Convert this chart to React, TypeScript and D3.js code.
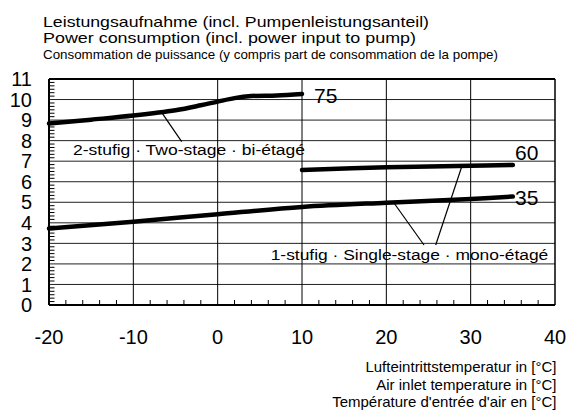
import React from "react";
import * as d3 from "d3";

const xTicks = [-20, -10, 0, 10, 20, 30, 40];
const yTicks = [0, 1, 2, 3, 4, 5, 6, 7, 8, 9, 10, 11];

const curve75X = [-20, -15, -10, -5, -2, 0, 2, 4, 7, 10];
const curve75Y = [8.83, 9.02, 9.22, 9.48, 9.72, 9.9, 10.07, 10.17, 10.2, 10.27];
const curve60X = [10, 20, 30, 35];
const curve60Y = [6.57, 6.7, 6.78, 6.82];
const curve35X = [-20, -10, 0, 10, 20, 30, 35];
const curve35Y = [3.72, 4.05, 4.42, 4.77, 4.98, 5.16, 5.28];

const seriesLabels = ["75", "60", "35"];
const titleLines = [
  "Leistungsaufnahme (incl. Pumpenleistungsanteil)",
  "Power consumption (incl. power input to pump)",
  "Consommation de puissance (y compris part de consommation de la pompe)",
];
const xTitleLines = [
  "Lufteintrittstemperatur in [°C]",
  "Air inlet temperature in [°C]",
  "Température d'entrée d'air en [°C]",
];
const twoStageLabel = "2-stufig · Two-stage · bi-étagé";
const oneStageLabel = "1-stufig · Single-stage · mono-étagé";

const W = 568;
const H = 417;
const L = 49;
const R = 555;
const T = 79;
const B = 305;
const FONT = "'Liberation Sans', Arial, Helvetica, sans-serif";

export default function App() {
  const x = d3.scaleLinear().domain([-20, 40]).range([L, R]);
  const y = d3.scaleLinear().domain([0, 11]).range([B, T]);
  const line = d3
    .line<[number, number]>()
    .x((d) => x(d[0]))
    .y((d) => y(d[1]))
    .curve(d3.curveCatmullRom.alpha(0.5));
  const zip = (a: number[], b: number[]) => a.map((v, i) => [v, b[i]] as [number, number]);

  const yMinor = d3.range(0, 66).map((i) => i / 6).filter((v) => Math.abs(v - Math.round(v)) > 0.01);
  const xMinor = d3.range(-20, 40.0001, 2).filter((v) => v % 10 !== 0);

  return (
    <svg width={W} height={H} style={{ position: "absolute", left: 0, top: 0 }} fontFamily={FONT}>
      <rect width={W} height={H} fill="#fff" />
      {/* titles */}
      <text x={43} y={27.3} fontSize={15} textLength={386} lengthAdjust="spacingAndGlyphs">{titleLines[0]}</text>
      <text x={43} y={42.7} fontSize={15} textLength={373} lengthAdjust="spacingAndGlyphs">{titleLines[1]}</text>
      <text x={43} y={59.3} fontSize={13} fontFamily="'Liberation Sans Narrow', 'Arial Narrow', sans-serif" textLength={455} lengthAdjust="spacingAndGlyphs">{titleLines[2]}</text>

      {/* horizontal grid */}
      {yTicks.filter((v) => v > 0 && v < 11).map((v) => (
        <line key={"h" + v} x1={L} x2={R} y1={y(v)} y2={y(v)} stroke="#222" strokeWidth={1} />
      ))}
      {/* vertical grid */}
      {xTicks.filter((v) => v > -20 && v < 40).map((v) => (
        <line key={"v" + v} x1={x(v)} x2={x(v)} y1={T} y2={B} stroke="#000" strokeWidth={1} />
      ))}
      {/* minor ticks */}
      {yMinor.map((v) => (
        <line key={"ym" + v} x1={L} x2={L + 5.5} y1={y(v)} y2={y(v)} stroke="#000" strokeWidth={1} />
      ))}
      {xMinor.map((v) => (
        <line key={"xm" + v} x1={x(v)} x2={x(v)} y1={B} y2={B - 5} stroke="#000" strokeWidth={1} />
      ))}
      {/* frame */}
      <line x1={L} x2={R} y1={T} y2={T} stroke="#000" strokeWidth={2} />
      <line x1={L} x2={R} y1={B} y2={B} stroke="#000" strokeWidth={2} />
      <line x1={L} x2={L} y1={T} y2={B} stroke="#000" strokeWidth={2} />
      <line x1={R} x2={R} y1={T} y2={B} stroke="#000" strokeWidth={1.5} />

      {/* y tick labels */}
      {yTicks.map((v) => (
        <text key={"yl" + v} x={32} y={y(v) + 7.2} fontSize={20} textAnchor="end">{v}</text>
      ))}
      {/* x tick labels */}
      {xTicks.map((v) => (
        <text key={"xl" + v} x={x(v)} y={344} fontSize={20} textAnchor="middle">{v}</text>
      ))}
      {/* x titles */}
      <text x={556.5} y={371.7} fontSize={15} textAnchor="end">{xTitleLines[0]}</text>
      <text x={556.5} y={389.5} fontSize={15} textAnchor="end">{xTitleLines[1]}</text>
      <text x={556.5} y={407} fontSize={15} textAnchor="end">{xTitleLines[2]}</text>

      {/* curves */}
      <path d={line(zip(curve75X, curve75Y)) || ""} fill="none" stroke="#000" strokeWidth={4.5} strokeLinecap="round" />
      <path d={line(zip(curve60X, curve60Y)) || ""} fill="none" stroke="#000" strokeWidth={4.5} strokeLinecap="round" />
      <path d={line(zip(curve35X, curve35Y)) || ""} fill="none" stroke="#000" strokeWidth={4.5} strokeLinecap="round" />

      {/* series labels */}
      <text x={314} y={103.3} fontSize={21}>{seriesLabels[0]}</text>
      <text x={515} y={160} fontSize={21}>{seriesLabels[1]}</text>
      <text x={515} y={205} fontSize={21}>{seriesLabels[2]}</text>

      {/* annotations */}
      <line x1={162.3} y1={113.3} x2={181.7} y2={141.7} stroke="#000" strokeWidth={1.2} />
      <text x={73} y={155} fontSize={15.5} textLength={232} lengthAdjust="spacingAndGlyphs">{twoStageLabel}</text>
      <line x1={394} y1={203} x2={424} y2={245} stroke="#000" strokeWidth={1.2} />
      <line x1={461.7} y1={166.7} x2={435.7} y2={245} stroke="#000" strokeWidth={1.2} />
      <text x={270.7} y={260} fontSize={15.5} textLength={277.6} lengthAdjust="spacingAndGlyphs">{oneStageLabel}</text>
    </svg>
  );
}
